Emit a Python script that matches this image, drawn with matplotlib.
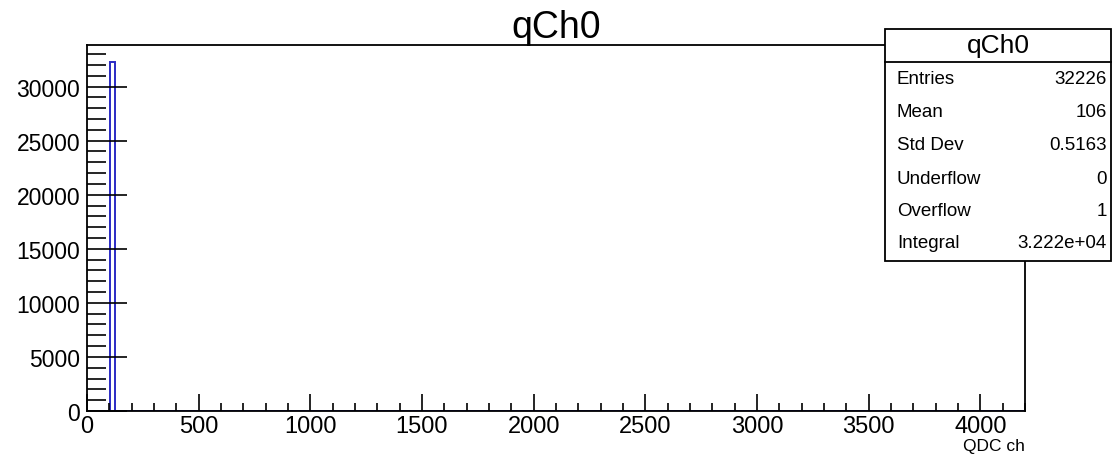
import numpy as np
import matplotlib.pyplot as plt
from matplotlib.ticker import MultipleLocator
from matplotlib.patches import Rectangle

plt.rcParams['font.family'] = ['Liberation Sans', 'DejaVu Sans']

# histogram definition (ROOT style TH1)
hist_name = 'qCh0'
x_label = 'QDC ch'
n_bins = 200
x_min, x_max = 0, 4200
filled_bins = [5]
filled_counts = [32226]

stat_names = ['Entries', 'Mean', 'Std Dev', 'Underflow', 'Overflow', 'Integral']
stat_values = ['32226', '106', '0.5163', '0', '1', '3.222e+04']

edges = np.linspace(x_min, x_max, n_bins + 1)
counts = np.zeros(n_bins)
counts[filled_bins] = filled_counts

fig = plt.figure(figsize=(11.12, 4.56), dpi=100)
ax = fig.add_axes([0.0782, 0.0965, 0.8436, 0.8025])

ax.stairs(counts, edges, color='#2b2bc4', linewidth=1.4)
ax.set_xlim(x_min, x_max)
ax.set_ylim(0, 1.05 * max(filled_counts))

### --- ticks --- ###
ax.xaxis.set_major_locator(MultipleLocator(500))
ax.xaxis.set_minor_locator(MultipleLocator(100))
ax.yaxis.set_major_locator(MultipleLocator(5000))
ax.yaxis.set_minor_locator(MultipleLocator(1000))
ax.tick_params(axis='both', which='both', direction='in', color='black')
ax.tick_params(axis='x', which='major', length=12, width=1.2, pad=3, labelsize=17)
ax.tick_params(axis='x', which='minor', length=6, width=1.2)
ax.tick_params(axis='y', which='major', length=29, width=1.2, pad=5, labelsize=16.5)
ax.tick_params(axis='y', which='minor', length=14, width=1.2)
for s in ax.spines.values():
    s.set_linewidth(1.3)

ax.set_title(hist_name, fontsize=27, pad=3)
# axis title sits under the right end, ROOT style
ax.text(1.0, -0.075, x_label, transform=ax.transAxes, ha='right', va='top', fontsize=12.5)

### --- stats box --- ###
bx0, by0 = 885 / 1112, 1 - 262 / 456
bw, bh = 226 / 1112, 232 / 456
fig.patches.append(Rectangle((bx0, by0), bw, bh, transform=fig.transFigure,
                             facecolor='white', edgecolor='black', linewidth=1.3, zorder=5))
head_y = 1 - 63 / 456
fig.add_artist(plt.Line2D([bx0, bx0 + bw], [head_y, head_y], transform=fig.transFigure,
                          color='black', linewidth=1.3, zorder=6))
fig.text(bx0 + bw / 2, 1 - 46 / 456, hist_name, ha='center', va='center', fontsize=19, zorder=7)
row_y = [80, 113, 146, 179, 211, 243]
for name, val, yy in zip(stat_names, stat_values, row_y):
    fig.text(897 / 1112, 1 - yy / 456, name, ha='left', va='center', fontsize=13.5, zorder=7)
    fig.text(1107 / 1112, 1 - yy / 456, val, ha='right', va='center', fontsize=13.5, zorder=7)

fig.savefig('out.png', dpi=100)
